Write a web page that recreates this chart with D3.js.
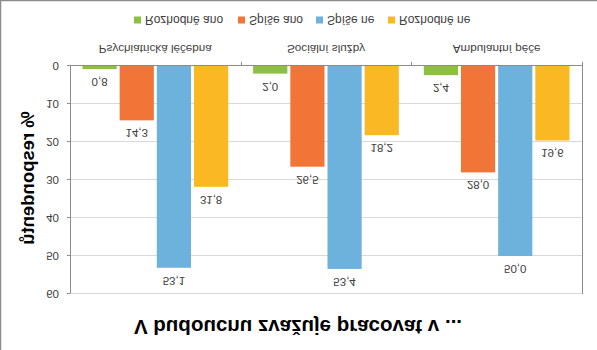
<!DOCTYPE html>
<html>
<head>
<meta charset="utf-8">
<script src="https://cdn.jsdelivr.net/npm/d3@7"></script>
<style>
  body { margin: 0; background: #fff; }
  svg { display: block; font-family: "Liberation Sans", Arial, sans-serif; }
</style>
</head>
<body>
<div id="chart"></div>
<script>
var categories = ['Psychiatrická léčebna', 'Sociální služby', 'Ambulantní péče'];
var series = ['Rozhodně ano', 'Spíše ano', 'Spíše ne', 'Rozhodně ne'];
var colors = ['#8dbf41', '#f07536', '#6db1dd', '#fab923'];
// one array per series, in category order
var rozhodneAno = [0.8, 2.0, 2.4];
var spiseAno = [14.3, 26.5, 28.0];
var spiseNe = [53.1, 53.4, 50.0];
var rozhodneNe = [31.8, 18.2, 19.6];
var yTicks = [0, 10, 20, 30, 40, 50, 60];

var values = [rozhodneAno, spiseAno, spiseNe, rozhodneNe];

var width = 597,
    height = 350,
    plotLeft = 70,
    plotRight = 582,
    plotTop = 56,
    plotBottom = 284;

var svg = d3.select('#chart')
    .append('svg')
    .attr('width', width)
    .attr('height', height);

// the picture is mirrored top to bottom, so draw the chart upright and flip it
var g = svg.append('g')
    .attr('transform', 'translate(0,' + height + ') scale(1,-1)');

g.append('line').attr('x1', 0.5).attr('x2', 0.5).attr('y1', 0).attr('y2', height)
    .attr('stroke', '#8c8c8c').attr('stroke-width', 1.5);
g.append('line').attr('x1', 0).attr('x2', width).attr('y1', height - 0.5).attr('y2', height - 0.5)
    .attr('stroke', '#8c8c8c').attr('stroke-width', 1.5);

var x0 = d3.scaleBand().domain(categories).range([plotLeft, plotRight]);
var x1 = d3.scaleBand().domain(series)
    .range([12.5, x0.bandwidth() - 12.5])
    .paddingInner(0.08);
var y = d3.scaleLinear().domain([0, 60]).range([plotBottom, plotTop]);

// grid
g.append('g').selectAll('line.grid')
    .data(yTicks.slice(1))
    .enter()
    .append('line')
    .attr('x1', plotLeft).attr('x2', plotRight)
    .attr('y1', function (d) { return Math.round(y(d)) + 0.5; })
    .attr('y2', function (d) { return Math.round(y(d)) + 0.5; })
    .attr('stroke', '#d9d9d9');

// right edge
g.append('line').attr('x1', plotRight + 0.5).attr('x2', plotRight + 0.5)
    .attr('y1', plotTop).attr('y2', plotBottom + 4)
    .attr('stroke', '#8c8c8c');

// bars
var groups = g.append('g').selectAll('g.cat')
    .data(categories)
    .enter()
    .append('g')
    .attr('transform', function (d) { return 'translate(' + x0(d) + ',0)'; });

groups.selectAll('rect')
    .data(function (d, i) { return series.map(function (s, j) { return { s: s, v: values[j][i], c: colors[j] }; }); })
    .enter()
    .append('rect')
    .attr('x', function (d) { return x1(d.s); })
    .attr('width', x1.bandwidth())
    .attr('y', function (d) { return y(d.v); })
    .attr('height', function (d) { return y(0) - y(d.v); })
    .attr('fill', function (d) { return d.c; });

groups.selectAll('text')
    .data(function (d, i) { return series.map(function (s, j) { return { s: s, v: values[j][i] }; }); })
    .enter()
    .append('text')
    .attr('x', function (d) { return x1(d.s) + x1.bandwidth() / 2; })
    .attr('y', function (d) { return y(d.v) - 13; })
    .attr('dy', '0.35em')
    .attr('text-anchor', 'middle')
    .style('font-size', '11.5px')
    .attr('fill', '#404040')
    .text(function (d) { return d3.format('.1f')(d.v).replace('.', ','); });

// value axis
var yAxis = g.append('g')
    .attr('transform', 'translate(' + plotLeft + ',0)')
    .call(d3.axisLeft(y).tickValues(yTicks).tickSize(3).tickSizeOuter(0));
yAxis.select('.domain').attr('stroke', '#8c8c8c');
yAxis.selectAll('.tick line').attr('stroke', '#8c8c8c');
yAxis.selectAll('.tick text')
    .attr('x', -11)
    .style('font-size', '11.5px')
    .style('font-family', '"Liberation Sans", Arial, sans-serif')
    .attr('fill', '#404040');

// category axis
g.append('line').attr('x1', plotLeft - 3).attr('x2', plotRight)
    .attr('y1', plotBottom + 0.5).attr('y2', plotBottom + 0.5)
    .attr('stroke', '#8c8c8c');
g.append('g').selectAll('line.ctick')
    .data(categories)
    .enter()
    .append('line')
    .attr('x1', function (d) { return Math.round(x0(d) + x0.bandwidth()) + 0.5; })
    .attr('x2', function (d) { return Math.round(x0(d) + x0.bandwidth()) + 0.5; })
    .attr('y1', plotBottom).attr('y2', plotBottom + 4)
    .attr('stroke', '#8c8c8c');

g.append('g').selectAll('text.cat')
    .data(categories)
    .enter()
    .append('text')
    .attr('x', function (d) { return x0(d) + x0.bandwidth() / 2; })
    .attr('y', 301)
    .attr('dy', '0.35em')
    .attr('text-anchor', 'middle')
    .style('font-size', '11.7px')
    .attr('fill', '#404040')
    .text(function (d) { return d; });

// axis title
g.append('text')
    .attr('transform', 'translate(28,172) rotate(-90)')
    .attr('dy', '0.35em')
    .attr('text-anchor', 'middle')
    .style('font-size', '18.5px')
    .style('font-weight', 'bold')
    .attr('fill', '#000')
    .text('% respondentů');

// chart title
g.append('text')
    .attr('x', 298)
    .attr('y', 23)
    .attr('dy', '0.35em')
    .attr('text-anchor', 'middle')
    .style('font-size', '20.5px')
    .style('font-weight', 'bold')
    .attr('fill', '#000')
    .text('V budoucnu zvažuje pracovat v ...');

// legend
var legendX = [134, 238, 316, 388];
var legend = g.append('g').selectAll('g.leg')
    .data(series)
    .enter()
    .append('g')
    .attr('transform', function (d, i) { return 'translate(' + legendX[i] + ',330)'; });
legend.append('rect')
    .attr('x', 0).attr('y', -3.5)
    .attr('width', 7).attr('height', 7)
    .attr('fill', function (d, i) { return colors[i]; });
legend.append('text')
    .attr('x', 11)
    .attr('dy', '0.35em')
    .style('font-size', '12px')
    .attr('fill', '#404040')
    .text(function (d) { return d; });
</script>
</body>
</html>
